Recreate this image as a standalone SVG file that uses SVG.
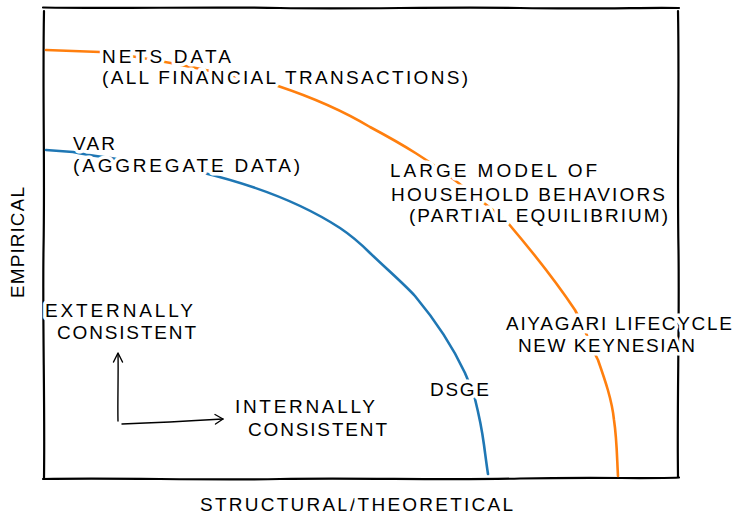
<svg xmlns="http://www.w3.org/2000/svg" width="735" height="516" viewBox="0 0 735 516">
<style>
text{font-family:"Liberation Sans","DejaVu Sans",sans-serif;font-size:19px;fill:#000;stroke:#fff;stroke-width:7px;paint-order:stroke;stroke-linejoin:round}
.frame{fill:none;stroke:#000;stroke-width:2.2;stroke-linecap:round;stroke-linejoin:round}
.orange{fill:none;stroke:#ff7f0e;stroke-width:2.6;stroke-linecap:round;stroke-linejoin:round}
.blue{fill:none;stroke:#1f77b4;stroke-width:2.6;stroke-linecap:round;stroke-linejoin:round}
.arrow{fill:none;stroke:#000;stroke-width:1.4;stroke-linecap:round;stroke-linejoin:round}
</style>
<rect width="735" height="516" fill="#fff"/>
<g id="frame">
<path class="frame" d="M43,7.5 C120,9 200,6.5 280,8 C360,9.5 440,6.5 520,8 C600,9.5 650,7 679,8"/>
<path class="frame" d="M44,11 C42.5,90 45,170 43.5,250 C42.5,330 45,400 44,479"/>
<path class="frame" d="M43,479 C120,477.5 200,480.5 280,479 C360,477.5 440,480.5 520,478.5 C600,477 650,479 679,477.5"/>
<path class="frame" d="M678,11 C679.5,90 677,170 678.5,250 C679.5,330 677,400 678,477"/>
</g>
<g id="connectors">
<path id="orange-curve" class="orange" d="M46,50 L100,52 C140,56 200,68 278,86 C320,100 350,115 370,127 C400,143 430,160 470,192 C490,208 500,215 508,223 C525,243 555,280 575,310 C585,328 590,345 598,360 C605,380 612,400 614,420 C617,440 617,460 618,476"/>
<path id="blue-curve" class="blue" d="M46,150 L73,152 C90,156 150,163 200,172 C250,184 300,202 340,228 C355,238 363,246 370,253 C390,272 405,285 415,296 C435,320 452,345 465,373 C470,385 473,392 475,399 C479,415 482,430 484,445 C486,460 487,468 488,474"/>
<g id="arrow-up">
<path class="arrow" d="M118,421 C117.5,400 118.5,375 118,354"/>
<path class="arrow" d="M113.5,362 L118,353 L122.5,362"/>
</g>
<g id="arrow-right">
<path class="arrow" d="M122,424 C150,423 190,421 223,419"/>
<path class="arrow" d="M215,414.5 L223,419 L215.5,424"/>
</g>
</g>
<g id="label-nets">
<text x="102" y="63" textLength="129" lengthAdjust="spacing">NETS DATA</text>
<text x="102" y="84" textLength="366" lengthAdjust="spacing">(ALL FINANCIAL TRANSACTIONS)</text>
</g>
<g id="label-var">
<text x="73" y="150" textLength="42" lengthAdjust="spacing">VAR</text>
<text x="73" y="172" textLength="227" lengthAdjust="spacing">(AGGREGATE DATA)</text>
</g>
<g id="label-large">
<text x="390" y="177" textLength="207" lengthAdjust="spacing">LARGE MODEL OF</text>
<text x="391" y="201" textLength="274" lengthAdjust="spacing">HOUSEHOLD BEHAVIORS</text>
<text x="409" y="222" textLength="259" lengthAdjust="spacing">(PARTIAL EQUILIBRIUM)</text>
</g>
<g id="label-aiyagari">
<text x="506" y="330" textLength="226" lengthAdjust="spacing">AIYAGARI LIFECYCLE</text>
<text x="518" y="352" textLength="177" lengthAdjust="spacing">NEW KEYNESIAN</text>
</g>
<g id="label-dsge">
<text x="430" y="396" textLength="59" lengthAdjust="spacing">DSGE</text>
</g>
<g id="label-external">
<text x="45" y="317" textLength="148" lengthAdjust="spacing">EXTERNALLY</text>
<text x="57" y="339" textLength="139" lengthAdjust="spacing">CONSISTENT</text>
</g>
<g id="label-internal">
<text x="235" y="413" textLength="140" lengthAdjust="spacing">INTERNALLY</text>
<text x="248" y="436" textLength="139" lengthAdjust="spacing">CONSISTENT</text>
</g>
<g id="axis-labels">
<text x="200" y="511" textLength="313" lengthAdjust="spacing">STRUCTURAL/THEORETICAL</text>
<text transform="translate(24,298) rotate(-90)" x="0" y="0" textLength="111" lengthAdjust="spacing">EMPIRICAL</text>
</g>
</svg>
